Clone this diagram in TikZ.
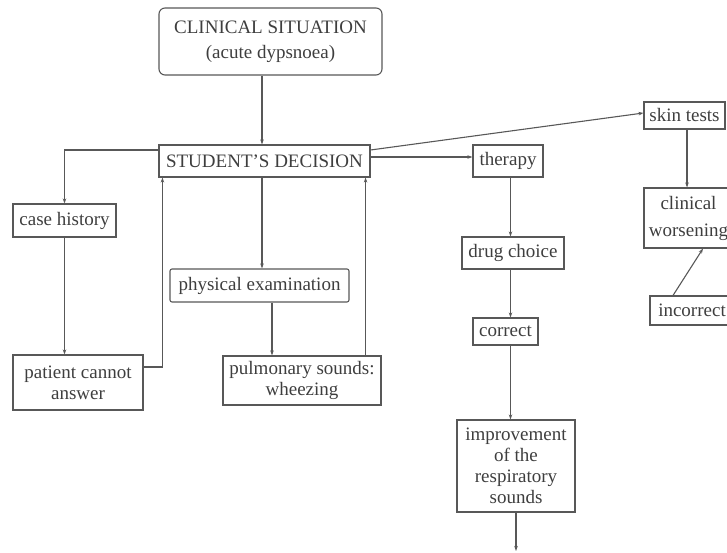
\documentclass[tikz,border=0pt]{standalone}
\usepackage{fontspec}
\setmainfont{Liberation Serif}
\usetikzlibrary{arrows.meta}
\definecolor{linegray}{RGB}{88,88,88}
\definecolor{inkgray}{RGB}{62,62,62}
\begin{document}
\begin{tikzpicture}[x=1pt,y=-1pt,
  box/.style={draw=linegray, line width=1.1pt, inner sep=0pt, align=center,
    text=inkgray, font=\fontsize{19}{21}\selectfont},
  link/.style={draw=linegray, line width=1.1pt, -{Stealth[length=5pt,width=3.5pt]}},
  plain/.style={draw=linegray, line width=1.1pt}]
\useasboundingbox (0,0) rectangle (727,553);
\clip (0,0) rectangle (727,553);

% boxes
\node[box, minimum width=223pt, minimum height=67pt, rounded corners=6pt] (clin) at (270.5,41.5)
  {CLINICAL SITUATION\\[4pt](acute dypsnoea)};
\node[box, minimum width=211pt, minimum height=32pt] (dec) at (264.5,161) {STUDENT'S DECISION};
\node[box, minimum width=103pt, minimum height=33pt] (hist) at (64.5,220.5) {case history};
\node[box, minimum width=130pt, minimum height=55pt] (pat) at (78,382.5) {patient cannot\\answer};
\node[box, minimum width=179pt, minimum height=33pt, rounded corners=2pt] (phys) at (259.5,285.5) {physical examination};
\node[box, minimum width=158pt, minimum height=49pt] (pulm) at (302,380.5) {pulmonary sounds:\\wheezing};
\node[box, minimum width=70pt, minimum height=32pt] (ther) at (508,161) {therapy};
\node[box, minimum width=102pt, minimum height=32pt] (drug) at (513,253) {drug choice};
\node[box, minimum width=65pt, minimum height=27pt] (corr) at (505.5,331.5) {correct};
\node[box, minimum width=118pt, minimum height=92pt] (impr) at (516,466)
  {improvement\\of the\\respiratory\\sounds};
\node[box, minimum width=81pt, minimum height=27pt] (skin) at (684.5,115.5) {skin tests};
\node[box, minimum width=89pt, minimum height=60pt] (clinw) at (688.5,218) {clinical\\[6pt]worsening};
\node[box, minimum width=84pt, minimum height=29pt] (inc) at (692,310.5) {incorrect};

% helper points on the boxes
\coordinate (d1) at ([xshift=-2.5pt]dec.south);
\coordinate (d2) at ([xshift=4pt]dec.south west);
\coordinate (d3) at ([xshift=-5pt]dec.south east);
\coordinate (p1) at ([xshift=12.5pt]phys.south);
\coordinate (t1) at ([xshift=2.5pt]ther.south);
\coordinate (s1) at ([xshift=2.5pt]skin.south);
\coordinate (tail) at (516,551);

% connectors
\draw[link] ([xshift=-8.5pt]clin.south) -- ([xshift=-2.5pt]dec.north);
\draw[link] ([yshift=11pt]dec.west) -| (hist.north);
\draw[link] (hist.south) -- (hist.south |- pat.north);
\draw[link] ([yshift=15.5pt]pat.east) -| (d2);
\draw[link] (d1) -- (d1 |- phys.north);
\draw[link] (p1) -- (p1 |- pulm.north);
\draw[link] (d3 |- pulm.north) -- (d3);
\draw[link] ([yshift=4pt]dec.east) -- ([yshift=4pt]ther.west);
\draw[link] ([yshift=11pt]dec.east) -- ([yshift=2.5pt]skin.west);
\draw[link] (t1) -- (t1 |- drug.north);
\draw[link] (t1 |- drug.south) -- (t1 |- corr.north);
\draw[link] (t1 |- corr.south) -- (t1 |- impr.north);
\draw[link] (impr.south) -- (tail);
\draw[link] (s1) -- (s1 |- clinw.north);
\draw[link] ([xshift=-19pt]inc.north) -- ([xshift=14.5pt]clinw.south);
\end{tikzpicture}
\end{document}
